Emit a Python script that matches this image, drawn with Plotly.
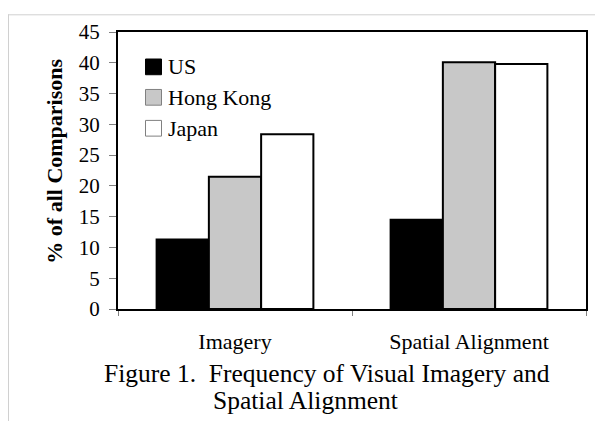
import plotly.graph_objects as go

categories = ["Imagery", "Spatial Alignment"]
series_names = ["US", "Hong Kong", "Japan"]
us_values = [11.3, 14.5]
hong_kong_values = [21.5, 40.1]
japan_values = [28.4, 39.8]
y_ticks = [0, 5, 10, 15, 20, 25, 30, 35, 40, 45]

fill_colors = ["#000000", "#c8c8c8", "#ffffff"]
swatch_borders = ["#000000", "#808080", "#808080"]

# the page body has an 8px margin, so the figure is placed at (8, 8) on screen
OFF = 8
W, H = 603 - OFF, 423 - OFF
L, R, T, B = 118 - OFF, 17, 27 - OFF, 114
pw, ph = W - L - R, H - T - B


def px_x(x):
    return (x - OFF - L) / pw


def px_y(y):
    return (H - B - (y - OFF)) / ph


FONT = "Liberation Serif, Times New Roman, serif"

fig = go.Figure()
for name, vals, col in zip(series_names, [us_values, hong_kong_values, japan_values], fill_colors):
    fig.add_trace(go.Bar(
        x=categories, y=vals, name=name,
        marker=dict(color=col, line=dict(color="#000000", width=2)),
        showlegend=False,
    ))

fig.update_layout(
    width=W, height=H,
    margin=dict(l=L, r=R, t=T, b=B),
    paper_bgcolor="white", plot_bgcolor="white",
    barmode="group", bargap=0.33, bargroupgap=0,
    font=dict(family=FONT, color="#000000"),
)

fig.update_yaxes(
    range=[0, 45], tickvals=y_ticks, ticktext=[str(v) for v in y_ticks],
    showgrid=False, zeroline=False,
    showline=True, linecolor="#000000", linewidth=2, mirror=True,
    ticks="outside", ticklen=7, tickcolor="#808080", tickwidth=1,
    tickfont=dict(size=21, family=FONT), ticklabelstandoff=5,
)
fig.update_xaxes(
    showgrid=False, zeroline=False,
    showline=True, linecolor="#000000", linewidth=2, mirror=True,
    ticks="outside", ticklen=5, tickcolor="#808080", tickwidth=1,
    tickson="boundaries",
    tickfont=dict(size=22, family=FONT), ticklabelstandoff=12,
)

shapes = []
annotations = []
# page border (top and left)
shapes.append(dict(type="line", xref="paper", yref="paper",
                   x0=px_x(8), x1=px_x(603), y0=px_y(9.5), y1=px_y(9.5),
                   line=dict(color="#d0d0d0", width=1)))
shapes.append(dict(type="line", xref="paper", yref="paper",
                   x0=px_x(8.5), x1=px_x(8.5), y0=px_y(9), y1=px_y(423),
                   line=dict(color="#d0d0d0", width=1)))

# y-axis title
annotations.append(dict(text="<b>% of all Comparisons</b>", xref="paper", yref="paper",
                        x=px_x(55), y=px_y(159), xanchor="center", yanchor="middle",
                        textangle=-90, showarrow=False,
                        font=dict(size=22, family=FONT, color="#000000")))

# legend
legend_tops = [54.5, 85.5, 117]
for name, top, col, bcol in zip(series_names, legend_tops, fill_colors, swatch_borders):
    shapes.append(dict(type="rect", xref="paper", yref="paper",
                       x0=px_x(145.5), x1=px_x(161.5), y0=px_y(top), y1=px_y(top + 16),
                       fillcolor=col, line=dict(color=bcol, width=1)))
    annotations.append(dict(text=name, xref="paper", yref="paper",
                            x=px_x(166), y=px_y(top + 8), xanchor="left", yanchor="middle",
                            showarrow=False, font=dict(size=22, family=FONT, color="#000000")))

# caption
annotations.append(dict(text="Figure 1.\u00a0 Frequency of Visual Imagery and", xref="paper", yref="paper",
                        x=px_x(326.5), y=px_y(375), xanchor="center", yanchor="middle",
                        showarrow=False, font=dict(size=25.5, family=FONT, color="#000000")))
annotations.append(dict(text="Spatial Alignment", xref="paper", yref="paper",
                        x=px_x(305.5), y=px_y(402), xanchor="center", yanchor="middle",
                        showarrow=False, font=dict(size=25.5, family=FONT, color="#000000")))

fig.update_layout(shapes=shapes, annotations=annotations)

fig.write_html("out.html")
